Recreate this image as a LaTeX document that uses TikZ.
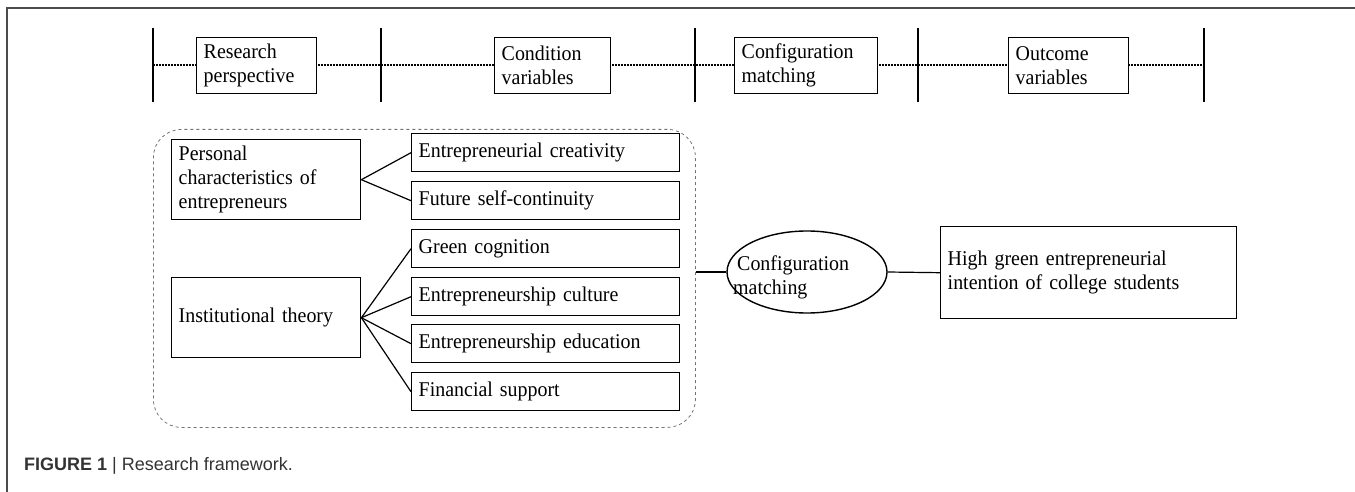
\documentclass[tikz,border=0pt]{standalone}
\usepackage{fontspec}
\setmainfont[FakeStretch=0.95]{Liberation Serif}
\newfontfamily\capfont{Liberation Sans}
\usetikzlibrary{shapes.geometric}
\begin{document}
\begin{tikzpicture}[x=1pt,y=-1pt,
  box/.style={draw, line width=1.4pt, fill=white, anchor=north west, inner xsep=7pt, inner ysep=0pt, align=left,
     font=\fontsize{21}{24}\selectfont},
  tick/.style={line width=1.4pt},
  conn/.style={line width=1.2pt},
  dotline/.style={line width=1.1pt, dash pattern=on 2pt off 1pt}]
\useasboundingbox (0,0) rectangle (1355,492);
% partial outer frame
\draw[line width=1.6pt, black!70] (7,492) -- (7,8) -- (1355,8);
% top row
\coordinate (t1a) at (153,28); \coordinate (t1b) at (153,102);
\coordinate (t2a) at (381,28); \coordinate (t2b) at (381,102);
\coordinate (t3a) at (695,28); \coordinate (t3b) at (695,102);
\coordinate (t4a) at (918,28); \coordinate (t4b) at (918,102);
\coordinate (t5a) at (1204,28); \coordinate (t5b) at (1204,102);
\coordinate (l1) at (153,65); \coordinate (l5) at (1204,65);
\draw[dotline] (l1) -- (l5);
\foreach \t in {1,...,5} {\draw[tick] (t\t a) -- (t\t b);}
\node[box, minimum width=120pt, minimum height=56pt, text width=106pt] (rp) at (196,37) {Research\\perspective};
\node[box, minimum width=116pt, minimum height=56pt, text width=102pt] (cv) at (494,37) {Condition\\variables};
\node[box, minimum width=143pt, minimum height=56pt, text width=129pt] (cm) at (734,37) {Configuration\\matching};
\node[box, minimum width=120pt, minimum height=56pt, text width=106pt] (ov) at (1008,37) {Outcome\\variables};
% dashed group
\node[draw, dashed, black!55, line width=0.8pt, rounded corners=28pt, anchor=north west,
  minimum width=542pt, minimum height=298pt, inner sep=0pt] (grp) at (153,129) {};
% left boxes
\node[box, minimum width=189pt, minimum height=80pt, text width=175pt] (pc) at (171,139) {Personal\\characteristics of\\entrepreneurs};
\node[box, minimum width=189pt, minimum height=80pt, text width=175pt] (it) at (171,277) {Institutional theory};
% right boxes
\node[box, minimum width=268pt, minimum height=38pt, text width=254pt] (b1) at (411,133) {Entrepreneurial creativity};
\node[box, minimum width=268pt, minimum height=38pt, text width=254pt] (b2) at (411,181) {Future self-continuity};
\node[box, minimum width=268pt, minimum height=38pt, text width=254pt] (b3) at (411,229) {Green cognition};
\node[box, minimum width=268pt, minimum height=38pt, text width=254pt] (b4) at (411,277) {Entrepreneurship culture};
\node[box, minimum width=268pt, minimum height=38pt, text width=254pt] (b5) at (411,324) {Entrepreneurship education};
\node[box, minimum width=268pt, minimum height=38pt, text width=254pt] (b6) at (411,372) {Financial support};
\draw[conn] (pc.east) -- (b1.west);
\draw[conn] (pc.east) -- (b2.west);
\foreach \b in {b3,b4,b5,b6} {\draw[conn] (it.east) -- (\b.west);}
% ellipse
\node[draw, ellipse, line width=1.4pt, minimum width=160pt, minimum height=82pt, inner sep=0pt] (ell) at (807,272) {};
\node[anchor=west, align=left, inner sep=0pt, font=\fontsize{21}{24}\selectfont] (elltxt) at (733,277) {\hspace*{4pt}Configuration\\matching};
\node[box, minimum width=296pt, minimum height=92pt, text width=282pt] (out) at (940,226) {High green entrepreneurial\\intention of college students};
\draw[conn] (grp.east |- ell.west) -- (ell.west);
\draw[conn] (ell.east) -- (out.west);
% caption
\node[anchor=base west, inner sep=0pt, text=black!80, font=\capfont\fontsize{18}{20}\selectfont] (cap) at (24,470) {\textbf{FIGURE 1} | Research framework.};
\end{tikzpicture}
\end{document}
